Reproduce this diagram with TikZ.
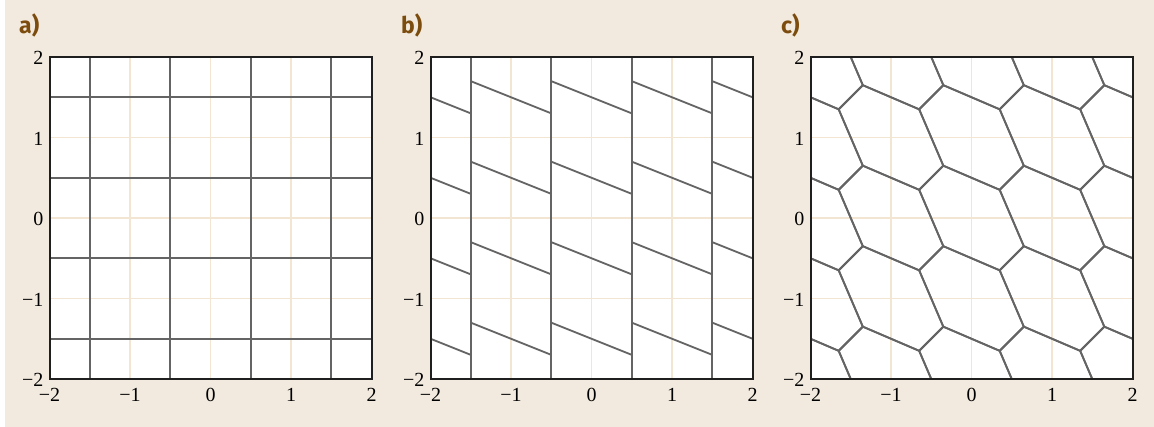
\documentclass[tikz,border=0pt]{standalone}
\usepackage{fontspec}
\setmainfont{Liberation Serif}
\newfontfamily\labfont{Fira Sans}
\definecolor{bgc}{RGB}{242,234,222}
\definecolor{gridc}{RGB}{242,229,210}
\definecolor{linec}{RGB}{100,100,100}
\definecolor{labc}{RGB}{124,76,14}
\tikzset{
 panel/.style={x=80.5pt,y=80.5pt},
 lightgrid/.style={draw=gridc, line width=1.6pt},
 cellline/.style={draw=linec, line width=1.8pt, line join=round},
 framebox/.style={draw=black!88, line width=2pt},
 ticklab/.style={font=\fontsize{20}{20}\selectfont, inner sep=0pt},
 panlab/.style={font=\labfont\bfseries\fontsize{23}{23}\selectfont, text=labc, inner sep=0pt, anchor=base west},
}
\newcommand\paneltop{%
  \fill[white] (-2,-2) rectangle (2,2);
  \foreach \v in {-1,0,1} {
    \draw[lightgrid] (\v,-2) -- (\v,2);
    \draw[lightgrid] (-2,\v) -- (2,\v);
  }
}
\newcommand\panelframe[1]{%
  \draw[framebox] (-2,-2) rectangle (2,2);
  \foreach \v/\t/\n in {-2/−2/m2,-1/−1/m1,0/0/z,1/1/p1,2/2/p2} {
    \node[ticklab, anchor=east, xshift=-6pt, yshift=-1pt] (#1y\n) at (-2,\v) {\t};
    \node[ticklab, anchor=north, yshift=-9pt] (#1x\n) at (\v,-2) {\t};
  }
}
\begin{document}
\begin{tikzpicture}[x=1pt,y=-1pt]
\useasboundingbox (0,0) rectangle (1154,427);
\fill[bgc] (5,0) rectangle (1154,427);
\node[panlab] (la) at (19,34) {a)};
\node[panlab] (lb) at (401,34) {b)};
\node[panlab] (lc) at (781,34) {c)};
% panel a
\begin{scope}[shift={(210.5pt,-218pt)}, panel]
  \paneltop
  \foreach \v in {-1.5,-0.5,0.5,1.5} {
    \draw[cellline] (\v,-2) -- (\v,2);
    \draw[cellline] (-2,\v) -- (2,\v);
  }
  \panelframe{a}
\end{scope}
% panel b
\begin{scope}[shift={(591.5pt,-218pt)}, panel]
  \paneltop
  \begin{scope}
    \clip (-2,-2) rectangle (2,2);
    \foreach \v in {-1.5,-0.5,0.5,1.5} {
      \draw[cellline] (\v,-2) -- (\v,2);
    }
    \foreach \k in {-2,...,2} {
      \foreach \m in {-1.5,-0.5,0.5,1.5} {
        \draw[cellline] (\k-0.5,\m+0.2) -- (\k+0.5,\m-0.2);
      }
    }
  \end{scope}
  \panelframe{b}
\end{scope}
% panel c
\begin{scope}[shift={(971.5pt,-218pt)}, panel]
  \paneltop
  \begin{scope}
    \clip (-2,-2) rectangle (2,2);
    \foreach \i in {-3,...,3} {
      \foreach \j in {-3,...,3} {
        \draw[cellline, shift={(\i,\j)}] (-0.35,0.65) -- (0.35,0.35) -- (0.65,-0.35) -- (0.35,-0.65) -- (-0.35,-0.35) -- (-0.65,0.35) -- cycle;
      }
    }
  \end{scope}
  \panelframe{c}
\end{scope}
\end{tikzpicture}
\end{document}
